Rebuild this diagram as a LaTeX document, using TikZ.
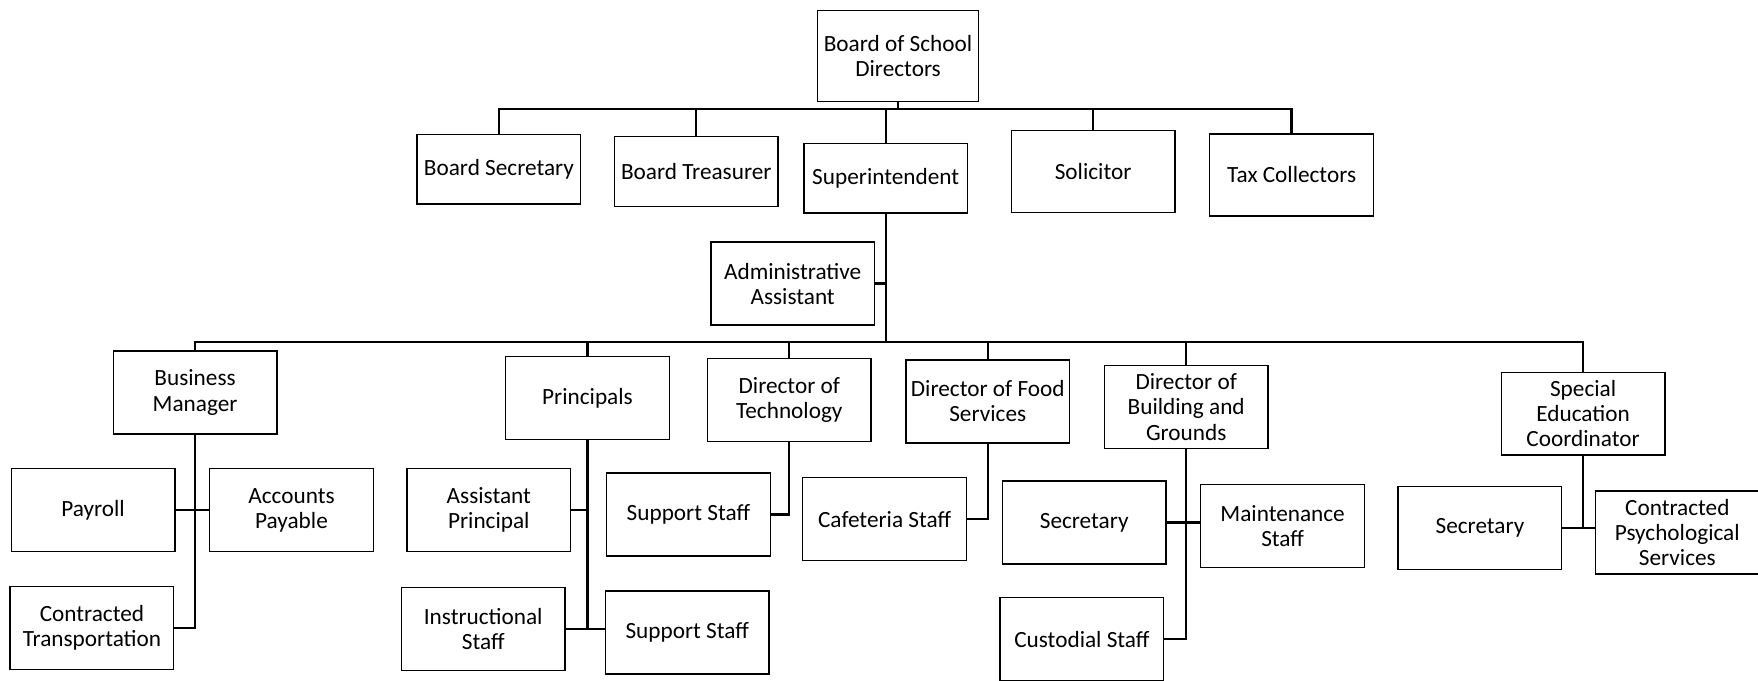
\documentclass[tikz,border=0pt]{standalone}
\usepackage{fontspec}
\setmainfont{Carlito}
\usetikzlibrary{positioning}

\begin{document}
\begin{tikzpicture}[x=0.02cm, y=-0.02cm,
        box/.style={draw, line width=0.7pt, minimum width=2.92cm, minimum height=1.48cm, inner sep=1pt, align=center, font=\fontsize{11.8}{12.8}\selectfont},
        topbox/.style={box, minimum height=1.24cm},
        link/.style={line width=1.2pt}]

        \useasboundingbox (0,0) rectangle (1568,607);

        % Nodes
        \node [box, minimum width=2.88cm, minimum height=1.62cm] (board) at (801,50) {Board of School\\Directors};

        \node [topbox] (bsec) at (445,151) {Board Secretary};
        \node [topbox] (btreas) at (621,153) {Board Treasurer};
        \node [topbox] (supt) at (790,159) {Superintendent};
        \node [topbox, minimum height=1.46cm] (solicitor) at (975,153) {Solicitor};
        \node [topbox, minimum height=1.46cm] (tax) at (1152,156) {Tax Collectors};

        \node [box] (admin) at (707,253) {Administrative\\Assistant};

        \node [box] (busmgr) at (174,350) {Business\\Manager};
        \node [box] (principals) at (524,355) {Principals};
        \node [box] (techdir) at (704,357) {Director of\\Technology};
        \node [box] (fooddir) at (881,358) {Director of Food\\Services};
        \node [box] (builddir) at (1058,363) {Director of\\Building and\\Grounds};
        \node [box] (sped) at (1412,369) {Special\\Education\\Coordinator};

        \node [box] (payroll) at (83,455) {Payroll};
        \node [box] (payable) at (260,455) {Accounts\\Payable};
        \node [box] (transport) at (82,560) {Contracted\\Transportation};

        \node [box] (asstprin) at (436,455) {Assistant\\Principal};
        \node [box] (instr) at (431,561) {Instructional\\Staff};
        \node [box] (prinsupport) at (613,564) {Support Staff};

        \node [box] (techsupport) at (614,459) {Support Staff};
        \node [box] (cafeteria) at (789,463) {Cafeteria Staff};

        \node [box] (buildsec) at (967,466) {Secretary};
        \node [box] (maint) at (1144,469) {Maintenance\\Staff};
        \node [box] (custodial) at (965,570) {Custodial Staff};

        \node [box] (spedsec) at (1320,471) {Secretary};
        \node [box] (psych) at (1496,475) {Contracted\\Psychological\\Services};

        \coordinate (top bus) at (801,97);
        \coordinate (mid bus) at (790,305);

        % Lines
        \draw [link] (board.south) -- (top bus);
        \draw [link] (bsec.north) |- (top bus) -| (tax.north);
        \draw [link] (btreas.north) -- (btreas.north |- top bus);
        \draw [link] (supt.north) -- (supt.north |- top bus);
        \draw [link] (solicitor.north) -- (solicitor.north |- top bus);

        \draw [link] (supt.south) -- (mid bus);
        \draw [link] (admin.east) -- (admin.east -| mid bus);
        \draw [link] (busmgr.north) |- (mid bus) -| (sped.north);
        \draw [link] (principals.north) -- (principals.north |- mid bus);
        \draw [link] (techdir.north) -- (techdir.north |- mid bus);
        \draw [link] (fooddir.north) -- (fooddir.north |- mid bus);
        \draw [link] (builddir.north) -- (builddir.north |- mid bus);

        \draw [link] (busmgr.south) |- (transport.east);
        \draw [link] (payroll.east) -- (payable.west);

        \draw [link] (principals.south) -- (principals.south |- instr.east);
        \draw [link] (instr.east) -- (prinsupport.west |- instr.east);
        \draw [link] (asstprin.east) -- (asstprin.east -| principals.south);

        \draw [link] (techdir.south) |- (techsupport.east);
        \draw [link] (fooddir.south) |- (cafeteria.east);

        \draw [link] (builddir.south) |- (custodial.east);
        \draw [link] (buildsec.east) -- (buildsec.east -| maint.west);

        \draw [link] (sped.south) -- (sped.south |- spedsec.east);
        \draw [link] (spedsec.east) -- (spedsec.east -| psych.west);
\end{tikzpicture}
\end{document}
